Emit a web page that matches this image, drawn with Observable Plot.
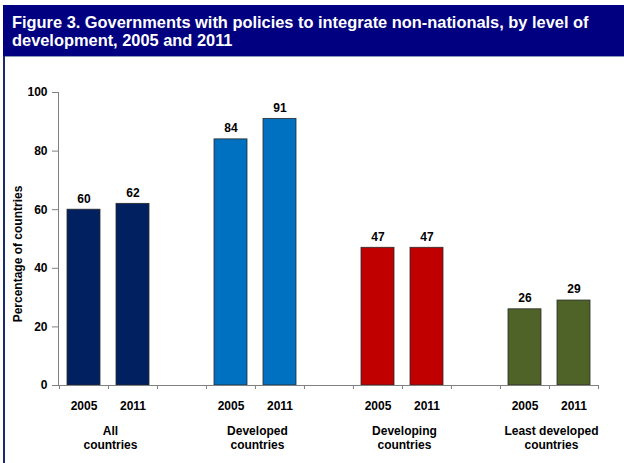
<!DOCTYPE html>
<html>
<head>
<meta charset="utf-8">
<script src="https://cdn.jsdelivr.net/npm/d3@7"></script>
<script src="https://cdn.jsdelivr.net/npm/@observablehq/plot@0.6"></script>
<style>
  html, body { margin: 0; padding: 0; background: #fff; }
  #wrap { position: relative; width: 624px; height: 463px; overflow: hidden; font-family: "Liberation Sans", Arial, sans-serif; }
  #title { position: absolute; left: 3px; top: 5px; width: 621px; height: 51px; background: #000080; color: #fff;
           font-weight: bold; font-size: 16.4px; line-height: 18.5px; box-sizing: border-box; padding: 7.5px 0 0 9px; }
  #sep { position: absolute; left: 3px; top: 56px; width: 621px; height: 1px; background: #8a98b8; }
  #lborder { position: absolute; left: 3px; top: 56px; width: 2px; height: 407px; background: #1a2a6c; }
  #chart { position: absolute; left: 0; top: 57px; }
</style>
</head>
<body>
<div id="wrap">
  <div id="title">Figure 3. Governments with policies to integrate non-nationals, by level of development, 2005 and 2011</div>
  <div id="sep"></div>
  <div id="lborder"></div>
  <div id="chart"></div>
</div>
<script>
const groups = ["All countries", "Developed countries", "Developing countries", "Least developed countries"];
const groupLabels = ["All\ncountries", "Developed\ncountries", "Developing\ncountries", "Least developed\ncountries"];
const years = ["2005", "2011"];
const values2005 = [60, 84, 47, 26];
const values2011 = [62, 91, 47, 29];
const colors = ["#002060", "#0070C0", "#C00000", "#4F6228"];
const yTicks = [0, 20, 40, 60, 80, 100];
const yLabel = "Percentage of countries";

// slots: two bars per group, then an empty gap slot
const slots = [];
groups.forEach((g, i) => {
  years.forEach(y => slots.push(g + "|" + y));
  if (i < groups.length - 1) slots.push("gap" + i);
});

const data = [];
groups.forEach((g, i) => {
  data.push({group: g, year: years[0], slot: g + "|" + years[0], value: values2005[i]});
  data.push({group: g, year: years[1], slot: g + "|" + years[1], value: values2011[i]});
});
const groupRows = groups.map((g, i) => ({group: g, label: groupLabels[i], slot: g + "|" + years[1]}));

const width = 624, height = 406;
const marginLeft = 58, marginRight = 26, marginTop = 35, marginBottom = 78;
const step = (width - marginLeft - marginRight) / slots.length;
const font = "Liberation Sans, Arial, sans-serif";
const axisGray = "#808080";

const chart = Plot.plot({
  width, height, marginLeft, marginRight, marginTop, marginBottom,
  style: {fontFamily: font, fontSize: "12px", fontWeight: "bold", color: "#000", background: "transparent"},
  x: {domain: slots, paddingInner: 0.33, paddingOuter: 0.165, axis: null},
  y: {domain: [0, 100], axis: null},
  color: {domain: groups, range: colors},
  marks: [
    Plot.barY(data, {x: "slot", y: "value", fill: "group", stroke: "#2a2a2a", strokeWidth: 0.8}),
    Plot.text(data, {x: "slot", y: "value", text: d => String(d.value), dy: -11, fontSize: 12, fontWeight: "bold", fill: "#000"}),
    Plot.frame({anchor: "left", stroke: axisGray}),
    Plot.frame({anchor: "bottom", stroke: axisGray}),
    Plot.axisY({ticks: yTicks, tickSize: 6, tickPadding: 5, fontSize: 12, fontWeight: "bold", stroke: axisGray, color: "#000", label: null}),
    Plot.axisX({ticks: slots, tickSize: 4, tickFormat: () => "", dx: -step / 2, stroke: axisGray, label: null}),
    Plot.axisX({ticks: [slots[slots.length - 1]], tickSize: 4, tickFormat: () => "", dx: step / 2, stroke: axisGray, label: null}),
    Plot.text(data, {x: "slot", y: 0, text: "year", dy: 20.5, lineAnchor: "middle", fontSize: 12, fontWeight: "bold", fill: "#000"}),
    Plot.text(groupRows, {x: "slot", y: 0, text: "label", dx: -step / 2 + 2, dy: 39.5, lineAnchor: "top", lineHeight: 1.17, fontSize: 12, fontWeight: "bold", fill: "#000"}),
    Plot.text([yLabel], {frameAnchor: "left", textAnchor: "middle", text: d => d, rotate: -90, dx: -40, dy: 15, fontSize: 12, fontWeight: "bold", fill: "#000"})
  ]
});
document.getElementById("chart").appendChild(chart);
</script>
</body>
</html>
